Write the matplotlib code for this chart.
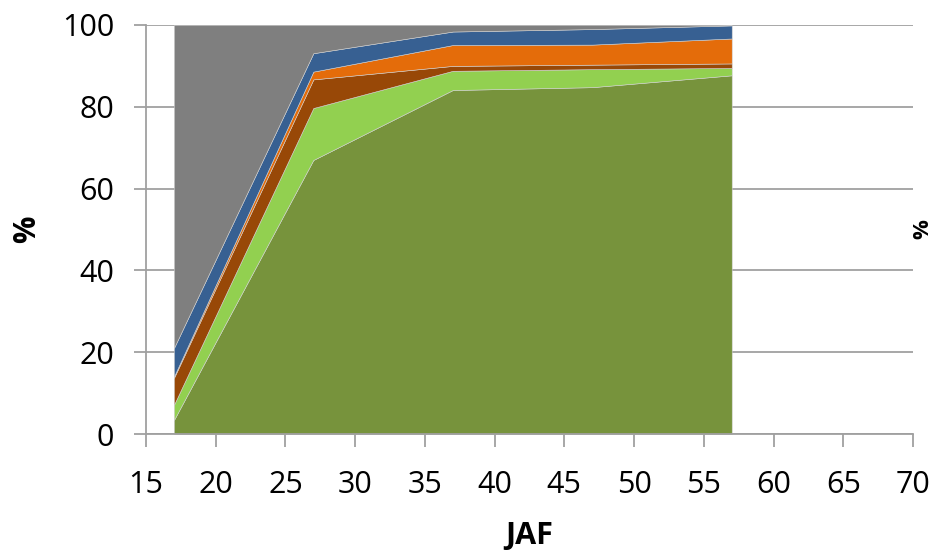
import numpy as np
import matplotlib.pyplot as plt

# JAF values (x axis)
jaf = [17, 27, 37, 47, 57]

# layer thickness in % (bottom to top)
s1 = [3.4, 67.0, 84.1, 84.8, 87.7]
s2 = [3.7, 12.7, 4.7, 4.4, 1.8]
s3 = [6.6, 7.0, 1.2, 1.1, 1.1]
s4 = [0.3, 1.9, 5.1, 4.9, 6.1]
s5 = [7.0, 4.5, 3.3, 3.8, 3.2]
s6 = [79.0, 6.9, 1.6, 1.0, 0.1]

colors = ['#77933C', '#92D050', '#984807', '#E46C0A', '#376092', '#7F7F7F']

plt.rcParams['font.family'] = ['Open Sans', 'DejaVu Sans']

fig = plt.figure(figsize=(9.35, 5.5), dpi=100)
ax = fig.add_axes([146/935, 116/550, 767/935, 409/550])

ax.stackplot(jaf, s1, s2, s3, s4, s5, s6, colors=colors,
             edgecolor='#d0d0d0', linewidth=0.4, zorder=2)

ax.set_xlim(15, 70)
ax.set_ylim(0, 100)
ax.set_xticks(np.arange(15, 71, 5))
ax.set_yticks(np.arange(0, 101, 20))

ax.grid(axis='y', color='#a0a0a0', linewidth=1.3, zorder=1)
ax.set_axisbelow(True)
for side in ['top', 'right']:
    ax.spines[side].set_visible(False)
for side in ['left', 'bottom']:
    ax.spines[side].set_color('#a0a0a0')
    ax.spines[side].set_linewidth(1.3)

ax.tick_params(axis='x', direction='out', length=9, width=1.3, color='#a0a0a0',
               labelsize=22, pad=17)
ax.tick_params(axis='y', direction='out', length=9, width=1.3, color='#a0a0a0',
               labelsize=22, pad=14)

ax.set_xlabel('JAF', fontsize=22, fontweight='bold', labelpad=15)
ax.set_ylabel('%', fontsize=22, fontweight='bold', labelpad=14)

# secondary-axis label at the right edge
fig.text(923/935, 1 - 229/550, '%', rotation=90, fontsize=16, fontweight='bold',
         ha='center', va='center')

fig.savefig('out.png', dpi=100)
